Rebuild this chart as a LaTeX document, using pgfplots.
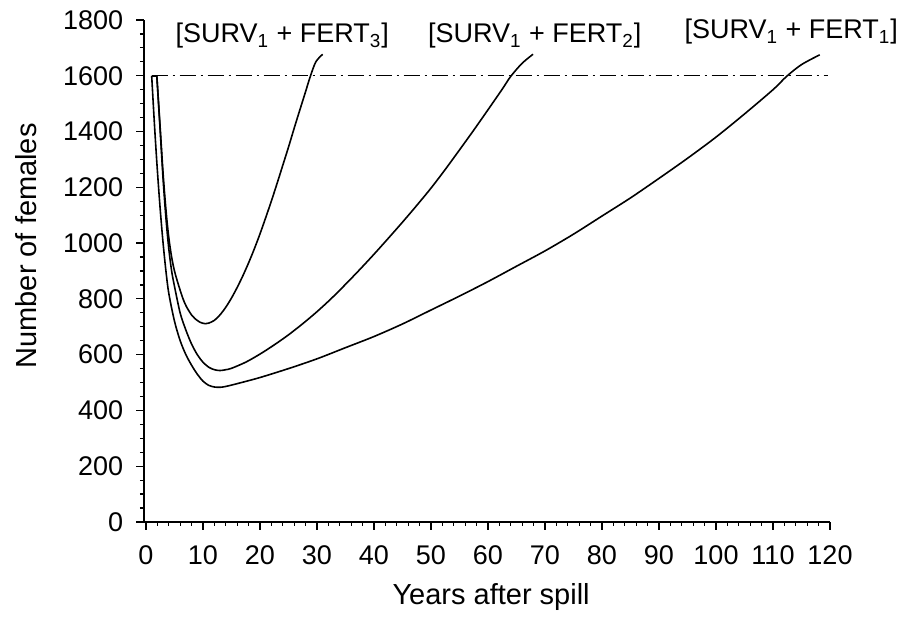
\documentclass[border=0pt]{standalone}
\usepackage{fontspec}
\setmainfont{Liberation Sans}
\usepackage{pgfplots}
\pgfplotsset{compat=1.18}

\begin{document}
\begin{tikzpicture}
\begin{axis}[
    scale only axis,
    width=343pt,
    height=251pt,
    xmin=-0.35, xmax=120,
    ymin=0, ymax=1800,
    axis x line=bottom,
    axis y line=left,
    axis line style={-, line width=0.65pt},
    every tick/.style={black, line width=0.6pt},
    tick align=outside,
    major tick length=3.9pt,
    minor tick length=2pt,
    xtick={0,10,...,120},
    ytick={0,200,...,1800},
    minor x tick num=4,
    minor y tick num=3,
    /pgf/number format/assume math mode=true,
    /pgf/number format/1000 sep={},
    tick label style={font=\fontsize{13.5}{16}\selectfont},
    xticklabel style={yshift=-4.5pt},
    yticklabel style={xshift=-3pt},
    xlabel={Years after spill},
    ylabel={Number of females},
    label style={font=\fontsize{14.5}{17}\selectfont},
    xlabel style={at={(axis description cs:0.506,-0.149)}, anchor=center},
    ylabel style={at={(axis description cs:-0.172,0.55)}, anchor=center},
    clip=false,
]

% target level
\addplot[black, line width=0.6pt, dash pattern=on 8pt off 2.5pt on 1pt off 2.5pt]
    coordinates {(1,1600) (119.6,1600)};

% start of the runs
\addplot[black, line width=0.8pt] coordinates {(1,1600) (1.9,1600)};

% SURV1 + FERT1
\addplot[black, line width=0.8pt, smooth, tension=0.5] coordinates {
    (1,1600) (1.5,1420) (2,1260) (2.5,1120) (3,1000) (3.5,900) (4,820)
    (5,720) (6,650) (7,600) (8,562) (9,530) (10,505) (11,490) (12,484)
    (13,483) (14,486) (16,496) (20,518) (25,550) (30,585) (35,625)
    (40,665) (45,710) (50,760) (55,810) (60,862) (65,917) (70,972)
    (75,1032) (80,1097) (85,1162) (90,1232) (95,1304) (100,1380)
    (105,1463) (110,1550) (112.4,1598) (115,1640) (118.2,1675)
};

% SURV1 + FERT2
\addplot[black, line width=0.8pt, smooth, tension=0.5] coordinates {
    (1.9,1600) (2.5,1400) (3,1230) (3.5,1090) (4,980) (4.5,900) (5,845)
    (6,749) (7,688) (8,638) (9,600) (10,573) (11,555) (12,546) (13,543)
    (14,546) (15,551) (17.5,573) (20,602) (22.5,635) (25,671) (27.5,711)
    (30,754) (32.5,801) (35,852) (37.5,905) (40,960) (42.5,1017)
    (45,1075) (47.5,1135) (50,1197) (52.5,1264) (55,1334) (57.5,1405)
    (60,1478) (62.5,1552) (64,1598) (66,1645) (67.9,1677)
};

% SURV1 + FERT3
\addplot[black, line width=0.8pt, smooth, tension=0.5] coordinates {
    (1.9,1600) (2.5,1410) (3,1250) (3.5,1120) (4,1020) (4.5,950) (5,900)
    (5.7,850) (6.5,800) (7.1,772) (8,742) (8.6,729) (9.5,716) (10.4,711)
    (11,713) (12,723) (13,743) (14,770) (15,803) (16,841) (17,883)
    (18,929) (19,979) (20,1033) (21,1091) (22,1151) (23,1214) (24,1279)
    (25,1344) (26,1412) (27,1478) (28,1543) (28.8,1596) (29.8,1650)
    (31,1677)
};

\node[anchor=base, font=\fontsize{13.5}{16}\selectfont] at (axis cs:23.9,1718)
    {[SURV\textsubscript{1} + FERT\textsubscript{3}]};
\node[anchor=base, font=\fontsize{13.5}{16}\selectfont] at (axis cs:68.2,1718)
    {[SURV\textsubscript{1} + FERT\textsubscript{2}]};
\node[anchor=base, font=\fontsize{13.5}{16}\selectfont] at (axis cs:113.2,1732)
    {[SURV\textsubscript{1} + FERT\textsubscript{1}]};

\coordinate (bl) at (rel axis cs:-0.2099,-0.2171);
\coordinate (tr) at (rel axis cs:1.1108,1.0398);
\end{axis}
\pgfresetboundingbox
\useasboundingbox (bl) rectangle (tr);
\end{tikzpicture}
\end{document}
